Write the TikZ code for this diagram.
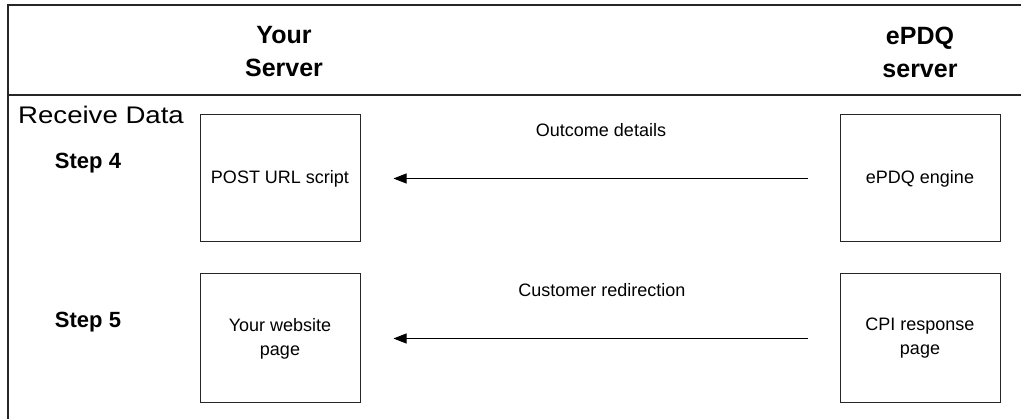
\documentclass[tikz,border=0pt]{standalone}
\usepackage{fontspec}
\setmainfont{Liberation Sans}
\newfontfamily\widefont[FakeStretch=1.15]{Liberation Sans}
\usetikzlibrary{arrows.meta}
\begin{document}
\begin{tikzpicture}[x=1pt,y=-1pt,
  frame/.style={draw=black!85, line width=1.3pt},
  box/.style={draw=black!85, line width=1pt, minimum width=160pt, minimum height=127pt, inner sep=0pt, align=center, font=\fontsize{18}{24}\selectfont},
  head/.style={align=center, font=\fontsize{25}{33}\selectfont\bfseries},
  steplabel/.style={font=\fontsize{22}{25}\selectfont\bfseries},
  msg/.style={font=\fontsize{18}{22}\selectfont},
  flow/.style={draw=black, line width=1pt, -{Triangle[length=13pt,width=10pt]}}
]
\useasboundingbox (0,0) rectangle (1021,419);
% frame
\coordinate (tl) at (8,5);
\coordinate (tr) at (1021,5);
\coordinate (ml) at (8,95);
\coordinate (mr) at (1021,95);
\coordinate (bl) at (8,419);
\draw[frame] (tr) -- (tl) -- (bl);
\draw[frame] (ml) -- (mr);
% headings
\node[head] (hyour) at (284,52) {Your\\Server};
\node[head] (hepdq) at (920,52) {ePDQ\\server};
% left labels
\node[anchor=west, inner sep=0pt, font=\widefont\fontsize{24}{27}\selectfont] (recv) at (18,115) {Receive Data};
\node[steplabel] (s4) at (88,163) {Step 4};
\node[steplabel] (s5) at (88,322) {Step 5};
% boxes
\node[box] (post) at (280,178.5) {POST URL script};
\node[box] (engine) at (920,178.5) {ePDQ engine};
\node[box, minimum height=129pt] (site) at (280,338.5) {Your website\\page};
\node[box, minimum height=129pt] (cpi) at (920,338.5) {CPI response\\page};
% arrows
\draw[flow] ([xshift=-32pt]engine.west) -- ([xshift=33pt]post.east);
\draw[flow] ([xshift=-32pt]cpi.west) -- ([xshift=33pt]site.east);
% messages
\node[msg] (m1) at (601,130) {Outcome details};
\node[msg] (m2) at (602,290) {Customer redirection};
\end{tikzpicture}
\end{document}
